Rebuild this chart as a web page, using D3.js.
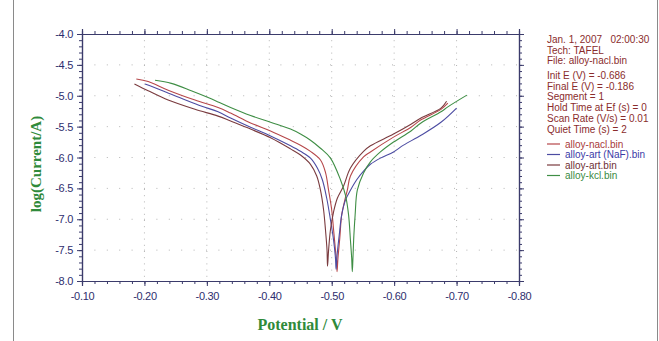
<!DOCTYPE html>
<html>
<head>
<meta charset="utf-8">
<script src="https://cdn.jsdelivr.net/npm/d3@7"></script>
<style>
  body { margin: 0; background: #fff; }
  svg { display: block; font-family: Arial, "Liberation Sans", sans-serif; }
</style>
</head>
<body>
<svg id="chart" width="659" height="341"></svg>
<script>
// tafel curves, potential (V) and log(current/A)
const naclE = [-0.187, -0.206, -0.238, -0.281, -0.318, -0.338, -0.370, -0.402, -0.434, -0.450, -0.466, -0.482, -0.490, -0.495, -0.500, -0.503, -0.506, -0.508, -0.5086,
  -0.510, -0.513, -0.516, -0.521, -0.525, -0.530, -0.551, -0.562, -0.599, -0.627, -0.643, -0.675, -0.686];
const naclLog = [-4.73, -4.77, -4.91, -5.07, -5.19, -5.28, -5.44, -5.57, -5.72, -5.80, -5.90, -6.04, -6.24, -6.53, -6.85, -7.17, -7.50, -7.69, -7.85,
  -7.63, -7.30, -6.93, -6.69, -6.53, -6.30, -5.99, -5.91, -5.67, -5.51, -5.39, -5.22, -5.12];

const nafE = [-0.201, -0.227, -0.259, -0.292, -0.318, -0.338, -0.370, -0.402, -0.434, -0.450, -0.466, -0.477, -0.485, -0.492, -0.498, -0.503, -0.506, -0.507,
  -0.5086, -0.512, -0.516, -0.522, -0.530, -0.540, -0.551, -0.562, -0.578, -0.599, -0.615, -0.643, -0.675, -0.700];
const nafLog = [-4.81, -4.91, -5.04, -5.17, -5.26, -5.36, -5.51, -5.65, -5.81, -5.90, -6.01, -6.17, -6.36, -6.66, -7.01, -7.34, -7.63, -7.81,
  -7.58, -7.26, -6.93, -6.69, -6.53, -6.36, -6.22, -6.11, -6.01, -5.91, -5.80, -5.64, -5.43, -5.20];

const artE = [-0.184, -0.206, -0.238, -0.281, -0.318, -0.338, -0.370, -0.402, -0.434, -0.450, -0.466, -0.476, -0.482, -0.487, -0.490, -0.4925, -0.4933,
  -0.495, -0.498, -0.503, -0.509, -0.519, -0.530, -0.551, -0.562, -0.599, -0.627, -0.643, -0.675, -0.684];
const artLog = [-4.81, -4.92, -5.07, -5.22, -5.33, -5.41, -5.54, -5.68, -5.86, -5.96, -6.11, -6.30, -6.53, -6.85, -7.17, -7.50, -7.76,
  -7.50, -7.17, -6.88, -6.66, -6.46, -6.17, -5.90, -5.81, -5.62, -5.46, -5.36, -5.20, -5.09];

const kclE = [-0.217, -0.243, -0.275, -0.302, -0.318, -0.338, -0.370, -0.402, -0.434, -0.450, -0.466, -0.482, -0.498, -0.514, -0.522, -0.527, -0.530, -0.532, -0.533,
  -0.534, -0.5355, -0.5375, -0.541, -0.551, -0.562, -0.578, -0.599, -0.627, -0.643, -0.675, -0.686, -0.7165];
const kclLog = [-4.75, -4.80, -4.92, -5.03, -5.10, -5.19, -5.32, -5.43, -5.54, -5.62, -5.72, -5.85, -6.01, -6.36, -6.61, -6.93, -7.34, -7.63, -7.85,
  -7.63, -7.26, -6.93, -6.53, -6.25, -6.07, -5.91, -5.75, -5.57, -5.44, -5.26, -5.18, -4.99];

const seriesNames = ["alloy-nacl.bin", "alloy-art (NaF).bin", "alloy-art.bin", "alloy-kcl.bin"];
const seriesColors = ["#b6474a", "#4c4ca2", "#7a3b3f", "#3f8e45"];
const legendTextColors = ["#a83a3a", "#3a3aa6", "#6e2f33", "#3a8a3f"];

const xTicks = [-0.10, -0.20, -0.30, -0.40, -0.50, -0.60, -0.70, -0.80];
const yTicks = [-4.0, -4.5, -5.0, -5.5, -6.0, -6.5, -7.0, -7.5, -8.0];

const infoLines = ["Jan. 1, 2007   02:00:30", "Tech: TAFEL", "File: alloy-nacl.bin"];
const paramLines = ["Init E (V) = -0.686", "Final E (V) = -0.186", "Segment = 1",
  "Hold Time at Ef (s) = 0", "Scan Rate (V/s) = 0.01", "Quiet Time (s) = 2"];

const series = [
  { E: naclE, L: naclLog },
  { E: nafE, L: nafLog },
  { E: artE, L: artLog },
  { E: kclE, L: kclLog }
];

const plotLeft = 82, plotRight = 519, plotTop = 34, plotBottom = 281;
const axisColor = "#3b3b6b";
const labelColor = "#2e2e6e";

const svg = d3.select('#chart');

// outer frame sides
svg.append('line').attr('x1', 13.5).attr('x2', 13.5).attr('y1', 0).attr('y2', 341)
  .attr('stroke', '#8a8a8a').attr('stroke-width', 1);
svg.append('line').attr('x1', 657.5).attr('x2', 657.5).attr('y1', 0).attr('y2', 341)
  .attr('stroke', '#8a8a8a').attr('stroke-width', 1);

const x = d3.scaleLinear().domain([-0.1, -0.8]).range([plotLeft, plotRight]);
const y = d3.scaleLinear().domain([-4, -8]).range([plotTop, plotBottom]);

// dotted grid
const grid = svg.append('g');
grid.selectAll('.vg').data(xTicks.slice(1, -1)).enter().append('line')
  .attr('x1', d => x(d)).attr('x2', d => x(d))
  .attr('y1', plotTop).attr('y2', plotBottom)
  .attr('stroke', '#b4b4b4').attr('stroke-width', 1)
  .attr('stroke-dasharray', '1,5.2');
grid.selectAll('.hg').data(yTicks.slice(1, -1)).enter().append('line')
  .attr('x1', plotLeft).attr('x2', plotRight)
  .attr('y1', d => y(d)).attr('y2', d => y(d))
  .attr('stroke', '#b4b4b4').attr('stroke-width', 1)
  .attr('stroke-dasharray', '1,11.4');

// curves
const line = d3.line()
  .x(d => x(d[0]))
  .y(d => y(d[1]))
  .curve(d3.curveCatmullRom.alpha(0.5));

series.forEach((s, i) => {
  svg.append('path')
    .datum(s.E.map((e, j) => [e, s.L[j]]))
    .attr('fill', 'none')
    .attr('stroke', seriesColors[i])
    .attr('stroke-width', 1.1)
    .attr('d', line);
});

// axes (plain hyphen minus like the original software)
const fmtX = d => d.toFixed(2);
const fmtY = d => d.toFixed(1);
const minorX = d3.range(-0.1, -0.8001, -0.02);
const minorY = d3.range(-4, -8.001, -0.1);

const bottomAxis = d3.axisBottom(x).tickValues(xTicks).tickFormat(fmtX).tickSize(5).tickPadding(6);
const topAxis = d3.axisTop(x).tickValues(minorX).tickFormat('').tickSize(3);
const leftAxis = d3.axisLeft(y).tickValues(yTicks).tickFormat(fmtY).tickSize(5).tickPadding(4);
const rightAxis = d3.axisRight(y).tickValues(minorY).tickFormat('').tickSize(3);

svg.append('g').attr('transform', `translate(0,${plotBottom})`).call(bottomAxis);
svg.append('g').attr('transform', `translate(0,${plotBottom})`)
  .call(d3.axisBottom(x).tickValues(minorX).tickFormat('').tickSize(3));
svg.append('g').attr('transform', `translate(0,${plotTop})`).call(topAxis);
svg.append('g').attr('transform', `translate(0,${plotTop})`)
  .call(d3.axisTop(x).tickValues(xTicks).tickFormat('').tickSize(5));
svg.append('g').attr('transform', `translate(${plotLeft},0)`).call(leftAxis);
svg.append('g').attr('transform', `translate(${plotLeft},0)`)
  .call(d3.axisLeft(y).tickValues(minorY).tickFormat('').tickSize(3));
svg.append('g').attr('transform', `translate(${plotRight},0)`).call(rightAxis);
svg.append('g').attr('transform', `translate(${plotRight},0)`)
  .call(d3.axisRight(y).tickValues(yTicks).tickFormat('').tickSize(5));

svg.selectAll('.domain').attr('stroke', axisColor).attr('stroke-width', 1.2);
svg.selectAll('.tick line').attr('stroke', axisColor);
svg.selectAll('.tick text')
  .attr('fill', labelColor)
  .style('font-family', 'Arial, "Liberation Sans", sans-serif')
  .style('font-size', '11px')
  .style('letter-spacing', '-0.3px');

// axis titles
svg.append('text')
  .attr('transform', 'translate(41,164) rotate(-90)')
  .attr('text-anchor', 'middle')
  .attr('fill', '#2f8a3a')
  .style('font-family', '"Liberation Serif", "DejaVu Serif", serif')
  .style('font-weight', 'bold')
  .style('font-size', '15px')
  .text('log(Current/A)');

svg.append('text')
  .attr('x', 300).attr('y', 330)
  .attr('text-anchor', 'middle')
  .attr('fill', '#2f8a3a')
  .style('font-family', '"Liberation Serif", "DejaVu Serif", serif')
  .style('font-weight', 'bold')
  .style('font-size', '16px')
  .text('Potential / V');

// info block
const info = svg.append('g')
  .style('font-size', '10px')
  .attr('fill', '#8a2c2c');
info.selectAll('.info').data(infoLines).enter().append('text')
  .attr('x', 547).attr('y', (d, i) => 43 + i * 10.6)
  .style('white-space', 'pre')
  .text(d => d);
info.selectAll('.param').data(paramLines).enter().append('text')
  .attr('x', 547).attr('y', (d, i) => 79 + i * 10.7)
  .text(d => d);

// legend
const legend = svg.append('g').style('font-size', '10px');
seriesNames.forEach((name, i) => {
  const ly = 144 + i * 10.5;
  legend.append('line')
    .attr('x1', 547).attr('x2', 560)
    .attr('y1', ly).attr('y2', ly)
    .attr('stroke', seriesColors[i]).attr('stroke-width', 1.2);
  legend.append('text')
    .attr('x', 565).attr('y', ly + 3.5)
    .attr('fill', legendTextColors[i])
    .text(name);
});
</script>
</body>
</html>
